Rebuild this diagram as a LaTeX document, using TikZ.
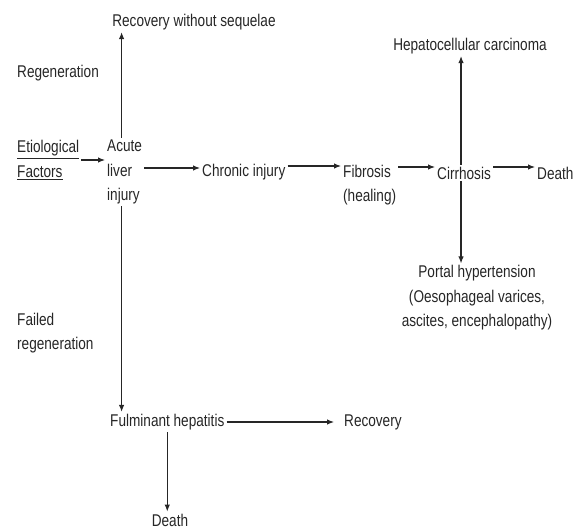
\documentclass[tikz,border=0pt]{standalone}
\usepackage{fontspec}
\usepackage{tikz}
\usetikzlibrary{arrows.meta,positioning}
\newfontfamily\narrowfont[FakeStretch=0.8]{Liberation Sans}

\begin{document}
\begin{tikzpicture}[
    x=1pt,y=-1pt,
    stagebox/.style={inner sep=2pt,font=\narrowfont\fontsize{17}{24.5}\selectfont,text=black!85},
    notelbl/.style={stagebox,align=left},
    course/.style={line width=1.1pt,black!85,-{Latex[length=7pt,width=5.5pt]}}
  ]
  \useasboundingbox (0,0) rectangle (577,530);
  % start and the acute phase
  \node[notelbl,anchor=west] (etio) at (15,160) {\underline{Etiological}\\\underline{Factors}};
  \node[notelbl,anchor=west] (acute) at (105,172) {Acute\\liver\\injury};
  \node[stagebox] (recov) at (194,22) {Recovery without sequelae};
  \node[notelbl,anchor=west] (regen) at (15,73) {Regeneration};
  \node[notelbl,anchor=west] (failed) at (15,333) {Failed\\regeneration};
  % chronic course
  \node[stagebox,anchor=west] (chronic) at (200,172) {Chronic injury};
  \node[notelbl,anchor=west] (fibro) at (341,185) {Fibrosis\\(healing)};
  \node[stagebox,anchor=west] (cirr) at (435,173) {Cirrhosis};
  \node[stagebox,anchor=west] (death1) at (535,173) {Death};
  \node[stagebox] (hcc) at (470,46) {Hepatocellular carcinoma};
  \node[stagebox,align=center] (portal) at (477,298) {Portal hypertension\\(Oesophageal varices,\\ascites, encephalopathy)};
  % fulminant course
  \node[stagebox,anchor=west] (fulm) at (108,422) {Fulminant hepatitis};
  \node[stagebox,anchor=west] (recov2) at (342,422) {Recovery};
  \node[stagebox] (death2) at (170,520) {Death};

  % connectors
  \draw[course] (etio.east) -- (etio.east -| acute.west);
  \draw[course] ([xshift=-3pt]acute.north) -- ([xshift=-3pt]acute.north |- recov.south);
  \draw[course] ([xshift=-3pt]acute.south) -- ([xshift=-3pt]acute.south |- fulm.north);
  \draw[course] ([yshift=4pt]acute.east) -- ([yshift=4pt]chronic.west);
  \draw[course] ([yshift=6pt]chronic.east) -- ([yshift=6pt]chronic.east -| fibro.west);
  \draw[course] ([yshift=6pt]cirr.west -| fibro.east) -- ([yshift=6pt]cirr.west);
  \draw[course] ([yshift=6pt]cirr.east) -- ([yshift=6pt]death1.west);
  \draw[course] ([xshift=-3pt]cirr.north) -- ([xshift=-3pt]cirr.north |- hcc.south);
  \draw[course] ([xshift=-3pt]cirr.south) -- ([xshift=-3pt]cirr.south |- portal.north);
  \draw[course,shorten >=8pt] (fulm.east) -- (recov2.west);
  \draw[course] (fulm.south) -- (fulm.south |- death2.north);
\end{tikzpicture}
\end{document}
